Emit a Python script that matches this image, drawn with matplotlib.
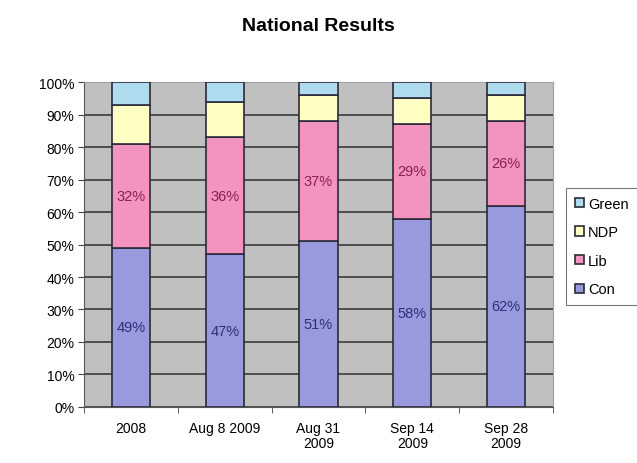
import matplotlib
matplotlib.use("Agg")
import matplotlib.pyplot as plt
import numpy as np

plt.rcParams['font.family'] = ['Liberation Sans', 'DejaVu Sans']

categories = ["2008", "Aug 8 2009", "Aug 31\n2009", "Sep 14\n2009", "Sep 28\n2009"]
con = [49, 47, 51, 58, 62]
lib = [32, 36, 37, 29, 26]
ndp = [12, 11, 8, 8, 8]
green = [7, 6, 4, 5, 4]

series = [("Con", con, "#9999DD"), ("Lib", lib, "#F394BE"),
          ("NDP", ndp, "#FFFFC4"), ("Green", green, "#AEDCEE")]

fig = plt.figure(figsize=(6.37, 4.64), dpi=100)
ax = fig.add_axes([0.132, 0.1207, 0.736, 0.7004])
ax.set_facecolor("#C0C0C0")

x = np.arange(len(categories))
bottom = np.zeros(len(categories))
handles = []
for name, vals, col in series:
    vals = np.array(vals, dtype=float)
    b = ax.bar(x, vals, 0.41, bottom=bottom, color=col, edgecolor="#2A2A3A",
               linewidth=1.2, label=name, zorder=3)
    handles.append(b)
    if name == "Con":
        for xi, v, bo in zip(x, vals, bottom):
            ax.text(xi, bo + v / 2, f"{int(v)}%", ha="center", va="center",
                    fontsize=10.5, color="#2E2E7A", zorder=4)
    if name == "Lib":
        for xi, v, bo in zip(x, vals, bottom):
            ax.text(xi, bo + v / 2, f"{int(v)}%", ha="center", va="center",
                    fontsize=10.5, color="#8A2050", zorder=4)
    bottom += vals

ax.set_xlim(-0.5, len(categories) - 0.5)
ax.set_ylim(0, 100)
ax.set_yticks(np.arange(0, 101, 10))
ax.set_yticklabels([f"{v}%" for v in range(0, 101, 10)], fontsize=10)
ax.yaxis.grid(True, color="#3A3A3A", linewidth=1.2, zorder=1)
ax.set_axisbelow(True)
ax.set_xticks(x)
ax.set_xticklabels(categories, fontsize=10, linespacing=1.1)
ax.tick_params(axis="x", length=0, pad=10)
ax.set_xticks(np.arange(-0.5, len(categories), 1), minor=True)
ax.tick_params(axis="x", which="minor", length=4, color="#444444")
ax.tick_params(axis="y", length=4, color="#444444", pad=3)

for s in ["top", "right"]:
    ax.spines[s].set_color("#A0A0A0")
for s in ["left", "bottom"]:
    ax.spines[s].set_color("#555555")

fig.text(0.5, 0.942, "National Results", ha="center", va="center",
         fontsize=14, fontweight="bold")

leg = fig.legend(handles[::-1], ["Green", "NDP", "Lib", "Con"],
                 loc="upper left", bbox_to_anchor=(0.889, 0.593),
                 borderaxespad=0.0,
                 fontsize=10.5, frameon=True, fancybox=False,
                 edgecolor="#555555", handlelength=0.6, handleheight=0.6,
                 handletextpad=0.3, labelspacing=1.0, borderpad=0.6)
leg.get_frame().set_linewidth(0.8)

fig.savefig("out.png", dpi=100, facecolor="white")
